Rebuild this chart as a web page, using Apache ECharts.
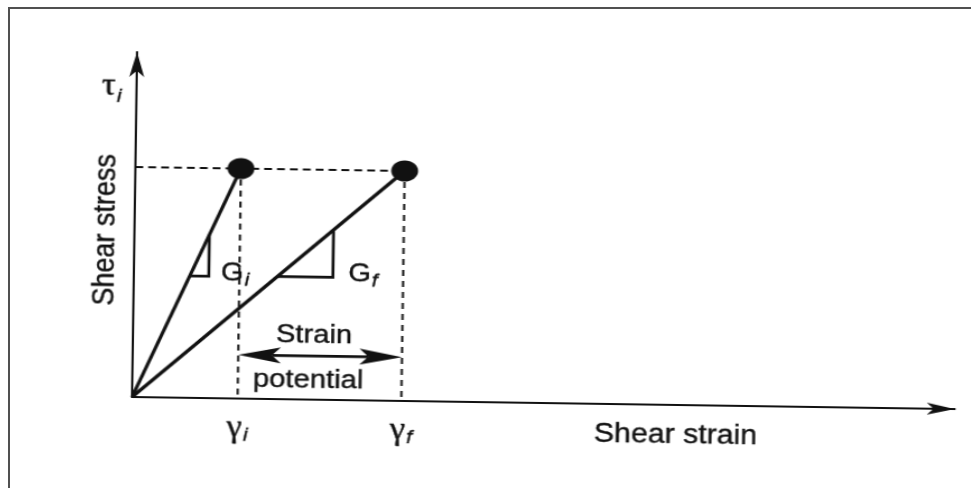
<!DOCTYPE html>
<html>
<head>
<meta charset="utf-8">
<title>Strain potential</title>
<script src="https://cdn.jsdelivr.net/npm/echarts@6.0.0/dist/echarts.min.js"></script>
<style>
  html, body { margin: 0; padding: 0; background: #fff; overflow: hidden; width: 971px; height: 488px; }
  #frame { position: absolute; left: 8px; top: 7px; width: 980px; height: 500px;
           border-top: 2px solid #505050; border-left: 2px solid #505050; pointer-events: none; z-index: 2; }
  /* the figure is a slightly tilted, horizontally widened scan of a sketch */
  #chart { position: absolute; left: 0; top: 0; width: 971px; height: 488px;
           transform-origin: 132px 397px; transform: rotate(0.84deg) scaleX(1.12); }
</style>
</head>
<body>
<div id="chart"></div>
<div id="frame"></div>
<script>
// ---- values --------------------------------------------------------------
const strainAtState   = [1.0, 2.55];          // γi (initial), γf (final)
const stressAtState   = [1.0, 1.0];           // τi is the same at both states
const stateSubscripts = ['i', 'f'];
const slopeTriangleSpan = [[0.53, 0.71], [1.36, 1.885]];  // strain range of each modulus triangle
const axisTitles  = ['Shear strain', 'Shear stress'];
const stressSymbol = 'τ';
const strainSymbol = 'γ';
const moduliSymbol = 'G';
const rangeTitle  = ['Strain', 'potential'];

// ---- layout ---------------------------------------------------------------
const X_MAX = 7.79, Y_MAX = 1.5;
const PX_PER_X = 94.3, PX_PER_Y = 230;
const INK = '#111111';
const SANS = '"Liberation Sans", Arial, Helvetica, sans-serif';
const SERIF = '"Liberation Serif", "Times New Roman", serif';
const ARROW_LEVEL = 0.19;
const TEXT_EDGE = { textBorderColor: INK, textBorderWidth: 0.4 };

const chart = echarts.init(document.getElementById('chart'), null, { renderer: 'canvas' });

const series = [];

// dashed guides: stress level and the two strains
series.push({
  type: 'line', symbol: 'none', silent: true, z: 1,
  lineStyle: { color: INK, width: 2, type: [7, 4.5] },
  data: [[0, stressAtState[0]], [strainAtState[1], stressAtState[1]]]
});
strainAtState.forEach((g, k) => {
  series.push({
    type: 'line', symbol: 'none', silent: true, z: 1,
    lineStyle: { color: INK, width: 2, type: [6, 5] },
    data: [[g, stressAtState[k]], [g, 0]]
  });
});

// secant lines from the origin to each state
strainAtState.forEach((g, k) => {
  series.push({
    type: 'line', symbol: 'none', silent: true, z: 3,
    lineStyle: { color: INK, width: 3.2 },
    data: [[0, 0], [g, stressAtState[k]]]
  });
});

// modulus triangles on each secant
slopeTriangleSpan.forEach((span, k) => {
  const s = stressAtState[k] / strainAtState[k];
  series.push({
    type: 'line', symbol: 'none', silent: true, z: 3,
    lineStyle: { color: INK, width: 2.6, join: 'miter' },
    data: [[span[0], span[0] * s], [span[1], span[0] * s], [span[1], span[1] * s]]
  });
});

// state points
series.push({
  type: 'scatter', silent: true, z: 5,
  symbol: 'circle', symbolSize: [24, 21],
  itemStyle: { color: INK, opacity: 1 },
  data: strainAtState.map((g, k) => [g, stressAtState[k]])
});

// double-headed arrow spanning the strain potential
series.push({
  type: 'custom', silent: true, z: 4,
  data: [[strainAtState[0], strainAtState[1], ARROW_LEVEL]],
  renderItem: function (params, api) {
    const a = api.coord([api.value(0), api.value(2)]);
    const b = api.coord([api.value(1), api.value(2)]);
    const L = 38, W = 8, N = 8;
    return {
      type: 'group',
      children: [
        { type: 'line', shape: { x1: a[0] + L - N, y1: a[1], x2: b[0] - L + N, y2: b[1] },
          style: { stroke: INK, lineWidth: 2.8 } },
        { type: 'polygon', shape: { points: [[a[0], a[1]], [a[0] + L, a[1] - W], [a[0] + L - N, a[1]], [a[0] + L, a[1] + W]] },
          style: { fill: INK } },
        { type: 'polygon', shape: { points: [[b[0], b[1]], [b[0] - L, b[1] - W], [b[0] - L + N, b[1]], [b[0] - L, b[1] + W]] },
          style: { fill: INK } }
      ]
    };
  }
});

// text annotations
const subRich = {
  m:  Object.assign({ fontFamily: SANS, fontSize: 26, color: INK }, TEXT_EDGE),
  gs: Object.assign({ fontFamily: SERIF, fontSize: 31, color: INK }, TEXT_EDGE),
  ts: Object.assign({ fontFamily: SERIF, fontSize: 31, color: INK }, TEXT_EDGE),
  s:  Object.assign({ fontFamily: SANS, fontSize: 19, fontStyle: 'italic', color: INK, padding: [14, 0, 0, 1] }, TEXT_EDGE),
  ss: Object.assign({ fontFamily: SANS, fontSize: 19, fontStyle: 'italic', color: INK, padding: [20, 0, 0, 1] }, TEXT_EDGE),
  t:  Object.assign({ fontFamily: SANS, fontSize: 26, color: INK }, TEXT_EDGE),
  a:  Object.assign({ fontFamily: SANS, fontSize: 27, color: INK }, TEXT_EDGE)
};
const mid = (strainAtState[0] + strainAtState[1]) / 2;
const textItems = [
  // strain ticks
  ...strainAtState.map((g, k) => ({
    value: [g, -0.13], label: { formatter: '{gs|' + strainSymbol + '}{s|' + stateSubscripts[k] + '}' }
  })),
  // moduli
  { value: [slopeTriangleSpan[0][1] + 0.25, 0.546], label: { formatter: '{m|' + moduliSymbol + '}{s|' + stateSubscripts[0] + '}' } },
  { value: [slopeTriangleSpan[1][1] + 0.285, 0.549], label: { formatter: '{m|' + moduliSymbol + '}{s|' + stateSubscripts[1] + '}' } },
  // strain potential
  { value: [mid - 0.06, 0.277], label: { formatter: '{t|' + rangeTitle[0] + '}' } },
  { value: [mid - 0.11, 0.085], label: { formatter: '{t|' + rangeTitle[1] + '}' } },
  // axis titles
  { value: [5.15, -0.131], label: { formatter: '{a|' + axisTitles[0] + '}' } },
  { value: [-0.269, 0.725], label: { rotate: 90, formatter: '{a|' + axisTitles[1] + '}' } },
  { value: [-0.235, 1.35], label: { formatter: '{ts|' + stressSymbol + '}{ss|' + stateSubscripts[0] + '}' } }
];
series.push({
  type: 'scatter', silent: true, z: 6, clip: false,
  symbolSize: 0,
  itemStyle: { color: 'transparent', opacity: 1 },
  label: { show: true, position: 'inside', align: 'center', verticalAlign: 'middle', opacity: 1, rich: subRich },
  data: textItems
});

chart.setOption({
  animation: false,
  backgroundColor: 'transparent',
  grid: { left: 132, bottom: 91, width: X_MAX * PX_PER_X, height: Y_MAX * PX_PER_Y, outerBoundsMode: 'none', containLabel: false },
  xAxis: {
    type: 'value', min: 0, max: X_MAX,
    axisLine: { show: true, onZero: false, symbol: ['none', 'arrow'], symbolSize: [9, 25], lineStyle: { color: INK, width: 2 } },
    axisTick: { show: false }, axisLabel: { show: false }, splitLine: { show: false }
  },
  yAxis: {
    type: 'value', min: 0, max: Y_MAX,
    axisLine: { show: true, onZero: false, symbol: ['none', 'arrow'], symbolSize: [10, 25], lineStyle: { color: INK, width: 2 } },
    axisTick: { show: false }, axisLabel: { show: false }, splitLine: { show: false }
  },
  series: series
});
</script>
</body>
</html>
